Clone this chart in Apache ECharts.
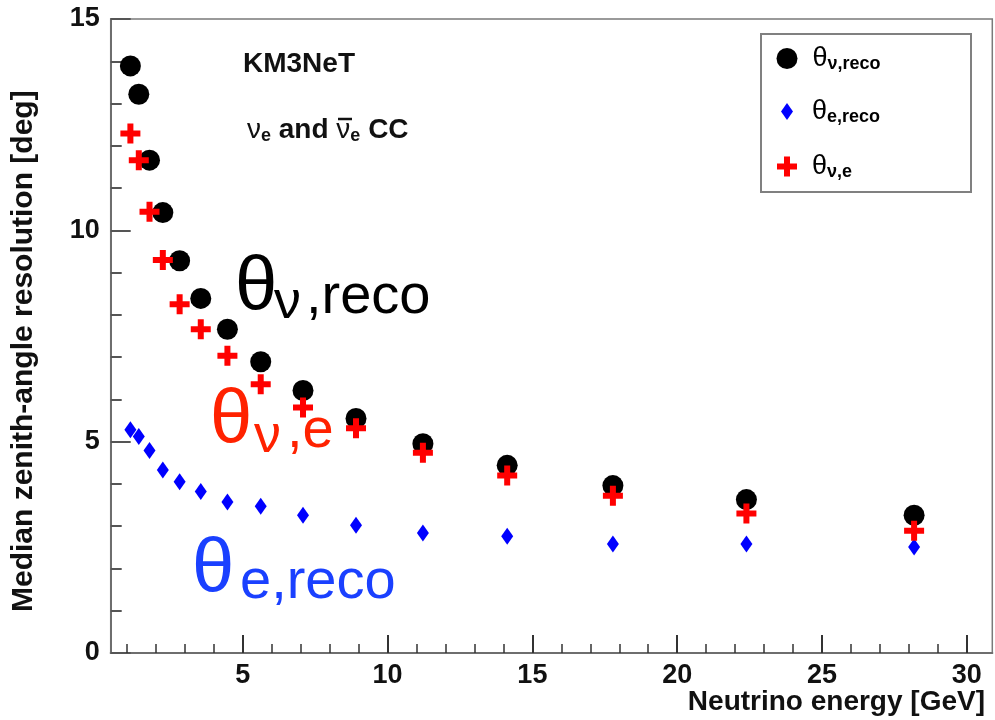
<!DOCTYPE html>
<html><head><meta charset="utf-8">
<script src="https://cdn.jsdelivr.net/npm/echarts@6/dist/echarts.min.js"></script>
<style>html,body{margin:0;padding:0;background:#fff}#c{width:995px;height:720px}</style>
</head><body><div id="c"></div><script>
// ---- data ----
const energies = [1.12, 1.41, 1.78, 2.24, 2.82, 3.55, 4.47, 5.62, 7.08, 8.91, 11.22, 14.13, 17.78, 22.39, 28.18];
const thetaNuReco = [13.89, 13.22, 11.66, 10.42, 9.28, 8.39, 7.66, 6.89, 6.21, 5.55, 4.95, 4.44, 3.96, 3.63, 3.26];
const thetaEReco  = [5.28, 5.12, 4.79, 4.33, 4.05, 3.82, 3.57, 3.47, 3.26, 3.02, 2.84, 2.76, 2.58, 2.58, 2.51];
const thetaNuE    = [12.29, 11.66, 10.44, 9.30, 8.25, 7.66, 7.03, 6.36, 5.81, 5.32, 4.74, 4.20, 3.72, 3.30, 2.89];
const xMajorTicks = [5, 10, 15, 20, 25, 30];
const xMinorTicks = [1, 2, 3, 4, 6, 7, 8, 9, 11, 12, 13, 14, 16, 17, 18, 19, 21, 22, 23, 24, 26, 27, 28, 29];
const seriesNames = ['θν,reco', 'θe,reco', 'θν,e'];
const xRange = [0.44, 30.88];
const yRange = [0, 15];

const pairs = (ys) => energies.map((e, i) => [e, ys[i]]);
const CROSS = 'path://M7,0H13V7H20V13H13V20H7V13H0V7H7Z';
const TXT = 'Liberation Sans';
const axisGray = '#6e6e6e';

const legendText = (name) => {
  const parts = { 'θν,reco': 'ν,reco', 'θe,reco': 'e,reco', 'θν,e': 'ν,e' };
  return '{t|θ}{s|' + parts[name] + '}';
};
const legendRich = {
  t: { fontFamily: TXT, fontSize: 27, color: '#000', lineHeight: 30, padding: [0, 0, 0, 10] },
  s: { fontFamily: TXT, fontSize: 18, fontWeight: 'bold', color: '#000', lineHeight: 18, verticalAlign: 'bottom' }
};
const mkLegend = (name, w, h, cx, cy, pad) => ({
  data: [name], left: cx - w / 2 - 5, top: cy - 15 - 5,
  itemWidth: w, itemHeight: h, orient: 'vertical', selectedMode: false,
  formatter: legendText,
  textStyle: { rich: Object.assign({}, legendRich, { t: Object.assign({}, legendRich.t, { padding: [0, 0, 0, pad] }) }) }
});
const label = (x, y, text, size, color) => ({
  type: 'text', x: x, y: y, silent: true,
  style: { text: text, fontFamily: TXT, fontSize: size, fill: color, align: 'left', verticalAlign: 'top' }
});

const chart = echarts.init(document.getElementById('c'), null, { renderer: 'canvas' });
chart.setOption({
  backgroundColor: '#fff',
  animation: false,
  grid: { left: 110.7, right: 2.7, top: 19, bottom: 67, show: true, borderColor: '#7a7a7a', borderWidth: 1.5, containLabel: false },
  xAxis: [{
    type: 'value', min: xRange[0], max: xRange[1], position: 'bottom',
    axisLine: { show: true, onZero: false, lineStyle: { color: axisGray, width: 2 } },
    axisTick: { show: true, inside: true, length: 18, customValues: xMajorTicks, lineStyle: { color: '#333', width: 2 } },
    axisLabel: { customValues: xMajorTicks, margin: 9, fontFamily: TXT, fontWeight: 'bold', fontSize: 27, color: '#111' },
    splitLine: { show: false }
  }, {
    type: 'value', min: xRange[0], max: xRange[1], position: 'bottom',
    axisLine: { show: false },
    axisTick: { show: true, inside: true, length: 9, customValues: xMinorTicks, lineStyle: { color: '#333', width: 1.5 } },
    axisLabel: { show: false }, splitLine: { show: false }
  }],
  yAxis: {
    type: 'value', min: yRange[0], max: yRange[1], interval: 5,
    axisLine: { show: true, onZero: false, lineStyle: { color: axisGray, width: 2 } },
    axisTick: { show: true, inside: true, length: 20, lineStyle: { color: '#555', width: 2 } },
    minorTick: { show: true, splitNumber: 5, length: 11, lineStyle: { color: '#555', width: 2 } },
    axisLabel: { margin: 11, fontFamily: TXT, fontWeight: 'bold', fontSize: 27, color: '#111' },
    splitLine: { show: false }, minorSplitLine: { show: false }
  },
  legend: [
    mkLegend(seriesNames[0], 21, 21, 787, 60, 10),
    mkLegend(seriesNames[1], 12, 17, 787, 113, 14),
    mkLegend(seriesNames[2], 20, 20, 787, 168, 10)
  ],
  series: [
    { name: seriesNames[0], type: 'scatter', data: pairs(thetaNuReco), symbol: 'circle', symbolSize: 21, itemStyle: { color: '#000', opacity: 1 }, z: 2 },
    { name: seriesNames[1], type: 'scatter', data: pairs(thetaEReco), symbol: 'diamond', symbolSize: [12, 17], itemStyle: { color: '#0000ff', opacity: 1 }, z: 3 },
    { name: seriesNames[2], type: 'scatter', data: pairs(thetaNuE), symbol: CROSS, symbolSize: 20, itemStyle: { color: '#ff0000', opacity: 1 }, z: 4 }
  ],
  graphic: [
    { type: 'rect', shape: { x: 761, y: 34, width: 210, height: 158 }, style: { fill: '#fff', stroke: '#808080', lineWidth: 2 }, z: 0, silent: true },
    { type: 'text', x: 243, y: 50, style: { text: 'KM3NeT', fontFamily: TXT, fontWeight: 'bold', fontSize: 28, fill: '#111', align: 'left', verticalAlign: 'top' } },
    { type: 'text', x: 247, y: 115, style: {
        text: '{n|ν}{s|e}{w| and }{n|ν}{s|e}{w| CC}', align: 'left', verticalAlign: 'top',
        rich: {
          n: { fontFamily: TXT, fontSize: 28, fill: '#111', lineHeight: 30 },
          s: { fontFamily: TXT, fontSize: 18, fontWeight: 'bold', fill: '#111', lineHeight: 18, verticalAlign: 'bottom' },
          w: { fontFamily: TXT, fontSize: 28, fontWeight: 'bold', fill: '#111', lineHeight: 30 }
        } } },
    { type: 'line', shape: { x1: 338, y1: 119, x2: 352, y2: 119 }, style: { stroke: '#111', lineWidth: 2.5 }, silent: true },
    // big annotations
    label(235, 250, 'θ', 76, '#000'),
    label(274, 276, 'ν', 54, '#000'),
    label(306, 270, ',reco', 56, '#000'),

    label(210, 383, 'θ', 76, '#ff2200'),
    label(254, 410, 'ν', 54, '#ff2200'),
    label(287, 404, ',e', 56, '#ff2200'),

    label(192, 532, 'θ', 76, '#1a40ff'),
    label(240, 555, 'e,reco', 56, '#1a40ff'),

    { type: 'text', x: 985, y: 688, style: { text: 'Neutrino energy [GeV]', fontFamily: TXT, fontWeight: 'bold', fontSize: 28, fill: '#111', align: 'right', verticalAlign: 'top' } },
    { type: 'text', x: 9, y: 612, rotation: Math.PI / 2, style: { text: 'Median zenith-angle resolution [deg]', fontFamily: TXT, fontWeight: 'bold', fontSize: 30, fill: '#111', align: 'left', verticalAlign: 'top' } }
  ]
});
</script></body></html>
